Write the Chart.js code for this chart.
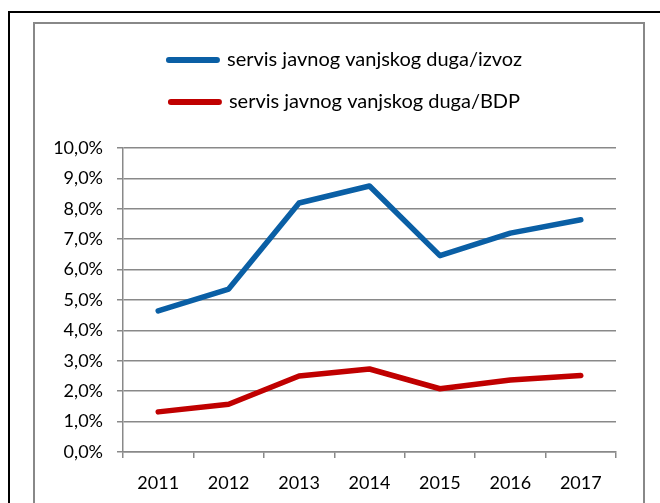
<!DOCTYPE html>
<html><head><meta charset="utf-8">
<script src="https://cdn.jsdelivr.net/npm/chart.js@4"></script>
<style>
html,body{margin:0;padding:0;background:#fff;overflow:hidden;width:660px;height:503px;}
#outer{position:absolute;left:8px;top:11px;width:800px;height:800px;border:2px solid #000;}
#inner{position:absolute;left:33px;top:22px;width:608px;height:800px;border:2px solid #888;}
canvas{position:absolute;left:0;top:0;}
</style></head><body>
<div id="outer"></div><div id="inner"></div>
<canvas id="c" width="660" height="503"></canvas>
<script>
const categories = ['2011', '2012', '2013', '2014', '2015', '2016', '2017'];
const seriesIzvoz = [4.64, 5.36, 8.19, 8.75, 6.46, 7.20, 7.64];
const seriesBDP = [1.32, 1.57, 2.50, 2.73, 2.08, 2.37, 2.52];
const seriesLabels = ['servis javnog vanjskog duga/izvoz', 'servis javnog vanjskog duga/BDP'];
const yTickLabels = ['0,0%', '1,0%', '2,0%', '3,0%', '4,0%', '5,0%', '6,0%', '7,0%', '8,0%', '9,0%', '10,0%'];

const FONT = 'Lato';
const gridColor = '#898989';

new Chart(document.getElementById('c'), {
  type: 'line',
  data: {
    labels: categories,
    datasets: [
      { label: seriesLabels[0], data: seriesIzvoz, borderColor: '#0a5fa5', backgroundColor: '#0a5fa5',
        borderWidth: 5.5, pointRadius: 0, tension: 0, borderJoinStyle: 'round', borderCapStyle: 'round' },
      { label: seriesLabels[1], data: seriesBDP, borderColor: '#c00000', backgroundColor: '#c00000',
        borderWidth: 5.5, pointRadius: 0, tension: 0, borderJoinStyle: 'round', borderCapStyle: 'round' }
    ]
  },
  options: {
    responsive: false,
    animation: false,
    events: [],
    layout: { padding: { left: 50, right: 19, top: 28, bottom: 0 } },
    plugins: {
      tooltip: { enabled: false },
      title: { display: true, text: '', weight: 500, padding: { top: 0, bottom: 14 }, font: { size: 10 } },
      legend: {
        position: 'top',
        align: 'center',
        labels: {
          usePointStyle: true,
          pointStyleWidth: 48,
          padding: 22,
          color: '#000',
          font: { family: FONT, size: 20 },
          generateLabels(chart) {
            return Chart.defaults.plugins.legend.labels.generateLabels(chart).map(l => Object.assign(l, {
              pointStyle: 'line', lineWidth: 6, lineCap: 'round',
              strokeStyle: chart.data.datasets[l.datasetIndex].borderColor
            }));
          }
        }
      }
    },
    scales: {
      x: {
        offset: true,
        afterFit(s) { s.height = 51; },
        grid: { offset: true, drawOnChartArea: false, color: gridColor, lineWidth: 1.5, tickLength: 6 },
        border: { color: gridColor, width: 1.5 },
        ticks: { padding: 14, color: '#000', font: { family: FONT, size: 18 } }
      },
      y: {
        min: 0, max: 10,
        afterFit(s) { s.width = 73; },
        grid: { color: gridColor, lineWidth: 1.5, tickLength: 6 },
        border: { color: gridColor, width: 1.5 },
        ticks: { stepSize: 1, padding: 14, color: '#000', font: { family: FONT, size: 18 },
          callback: (v, i) => yTickLabels[i] }
      },
      yRight: {
        type: 'linear', position: 'right', display: true,
        afterFit(s) { s.width = 25; },
        grid: { display: false, drawTicks: false },
        border: { display: false },
        ticks: { display: false }
      }
    }
  }
});
</script>
</body></html>
